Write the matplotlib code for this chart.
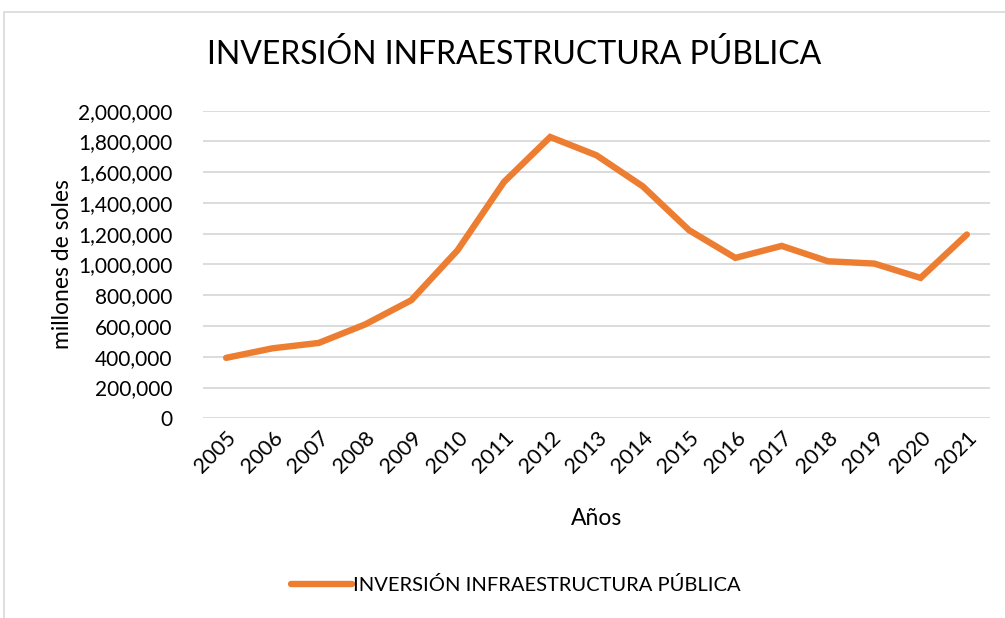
import matplotlib
matplotlib.use("Agg")
import matplotlib.pyplot as plt
from matplotlib.patches import Rectangle
from matplotlib.ticker import FuncFormatter

years = [str(y) for y in range(2005, 2022)]
inversion = [393000, 455000, 490000, 610000, 768000, 1093000, 1536000, 1829000,
             1710000, 1508000, 1223000, 1043000, 1121000, 1021000, 1006000,
             913000, 1195000]
y_ticks = list(range(0, 2000001, 200000))
title = "INVERSIÓN INFRAESTRUCTURA PÚBLICA"

plt.rcParams["font.family"] = ["Lato", "DejaVu Sans"]
ORANGE = "#ED7D31"
GRID = "#D9D9D9"

fig = plt.figure(figsize=(10.05, 6.18), dpi=100)
fig.patches.append(Rectangle((4 / 1005, -0.1), 1.2, (606 / 618) + 0.1,
                             transform=fig.transFigure, fill=False,
                             edgecolor=GRID, lw=1.2))

ax = fig.add_axes([203 / 1005, 1 - 418.3 / 618, (990 - 203) / 1005, (418.3 - 110.7) / 618])
x = list(range(len(years)))
ax.plot(x, inversion, color=ORANGE, lw=4.6, solid_joinstyle="miter",
        solid_capstyle="round", label=title)

ax.set_xlim(-0.5, len(years) - 0.5)
ax.set_ylim(0, 2000000)
ax.set_yticks(y_ticks)
ax.yaxis.set_major_formatter(FuncFormatter(lambda v, p: f"{int(v):,}"))
ax.set_xticks(x)
ax.set_xticklabels(years, rotation=45, ha="right", rotation_mode="anchor")
ax.tick_params(axis="both", length=0, labelsize=15.5, colors="#000000")
ax.tick_params(axis="y", pad=22, labelsize=15)
ax.tick_params(axis="x", pad=7)
ax.grid(axis="y", color=GRID, lw=1.3)
ax.set_axisbelow(True)
for s in ax.spines.values():
    s.set_visible(False)

ax.set_ylabel("millones de soles", fontsize=16.5, labelpad=4)
ax.set_xlabel("Años", fontsize=16.5, labelpad=22)

fig.text(514 / 1005, 1 - 55 / 618, title, ha="center", va="center", fontsize=23)
fig.legend(loc="center", bbox_to_anchor=(516 / 1005, 1 - 585 / 618), frameon=False,
           fontsize=14.5, handlelength=3.0, handletextpad=0.05)

fig.savefig("out.png", dpi=100)
